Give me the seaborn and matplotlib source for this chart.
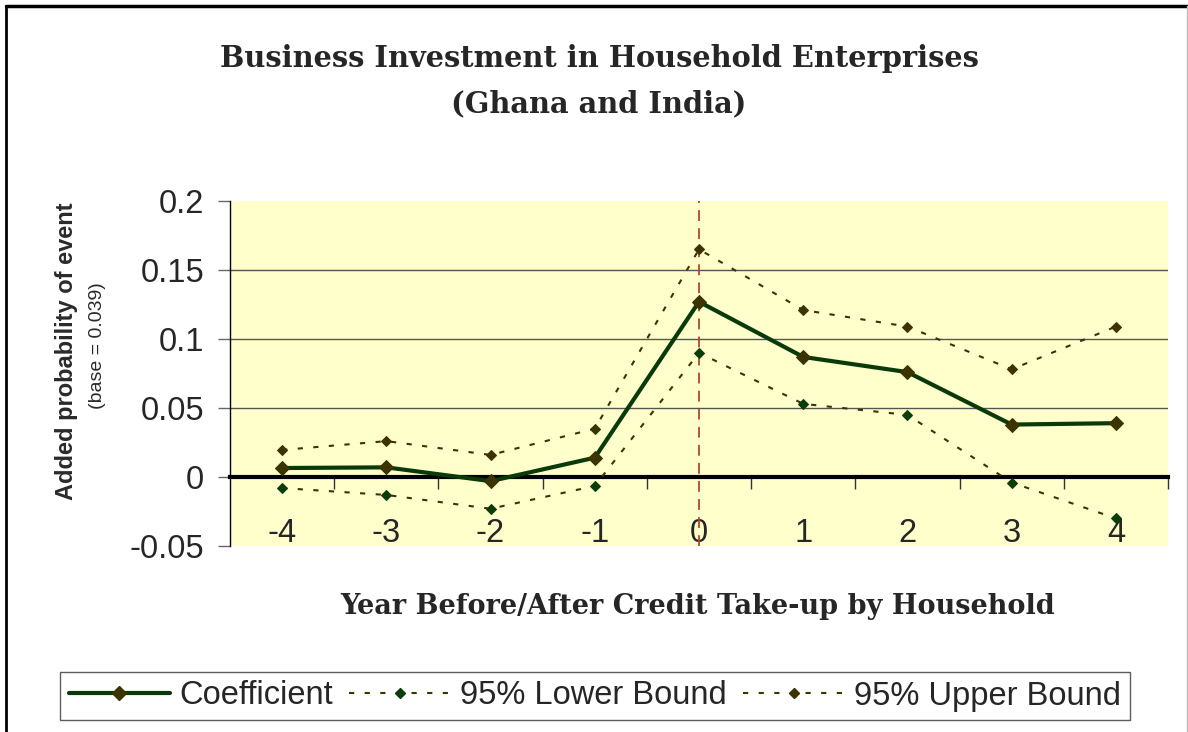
import numpy as np
import pandas as pd
import matplotlib
matplotlib.use("Agg")
import matplotlib.pyplot as plt
from matplotlib.lines import Line2D
import seaborn as sns

# ---------------------------------------------------------------------
# data
# ---------------------------------------------------------------------
years = [-4, -3, -2, -1, 0, 1, 2, 3, 4]
coefficient = [0.0065, 0.007, -0.003, 0.014, 0.127, 0.087, 0.076, 0.038, 0.039]
lower_bound = [-0.008, -0.013, -0.023, -0.0065, 0.090, 0.053, 0.045, -0.004, -0.030]
upper_bound = [0.0196, 0.026, 0.016, 0.035, 0.165, 0.121, 0.109, 0.078, 0.109]

y_ticks = [-0.05, 0, 0.05, 0.1, 0.15, 0.2]
y_tick_labels = ['-0.05', '0', '0.05', '0.1', '0.15', '0.2']
grid_levels = [0.05, 0.1, 0.15]
x_tick_labels = ['-4', '-3', '-2', '-1', '0', '1', '2', '3', '4']
boundaries = [-3.5, -2.5, -1.5, -0.5, 0.5, 1.5, 2.5, 3.5, 4.5]
takeup_year = 0

series_names = ['Coefficient', '95% Lower Bound', '95% Upper Bound']

df = pd.DataFrame({'year': years, 'Coefficient': coefficient,
                   '95% Lower Bound': lower_bound, '95% Upper Bound': upper_bound})

# ---------------------------------------------------------------------
sns.set_style("white")
plt.rcParams['font.family'] = ['Liberation Sans', 'DejaVu Sans']

GREEN = '#0a3a0a'
BROWN = '#3b3300'
YELLOW = '#ffffcc'

fig = plt.figure(figsize=(11.88, 7.32), dpi=100)
ax = fig.add_axes([230 / 1188, 1 - 546 / 732, 938 / 1188, 345 / 732])
ax.set_facecolor(YELLOW)

for lvl in grid_levels:
    ax.axhline(lvl, color='#555555', lw=1, zorder=1)

ax.axvline(takeup_year, color='#b5452a', lw=1.3, ls=(0, (6, 4)), zorder=2)

dot = (0, (2.5, 5))
sns.lineplot(data=df, x='year', y='95% Upper Bound', ax=ax, color=BROWN, lw=1.5,
             linestyle=dot, marker='D', markersize=5, markerfacecolor=BROWN,
             markeredgecolor=BROWN, zorder=3)
sns.lineplot(data=df, x='year', y='95% Lower Bound', ax=ax, color=BROWN, lw=1.5,
             linestyle=dot, marker='D', markersize=5, markerfacecolor='#0b3d0b',
             markeredgecolor='#0b3d0b', zorder=3)
sns.lineplot(data=df, x='year', y='Coefficient', ax=ax, color=GREEN, lw=3,
             marker='D', markersize=7.5, markerfacecolor=BROWN,
             markeredgecolor=BROWN, zorder=4)

ax.set_xlim(-4.5, 4.5)
ax.set_ylim(-0.05, 0.2)

# axes styling: x axis crosses at zero
for s in ['top', 'right']:
    ax.spines[s].set_visible(False)
ax.spines['bottom'].set_position(('data', 0))
ax.spines['bottom'].set_linewidth(3)
ax.spines['bottom'].set_color('black')
ax.spines['left'].set_linewidth(1)
ax.spines['left'].set_color('black')
ax.spines['bottom'].set_zorder(2.5)

ax.set_xticks(years)
ax.set_xticklabels(x_tick_labels)
ax.set_xticks(boundaries, minor=True)
ax.tick_params(axis='x', which='major', length=0, pad=29.5, labelsize=23.5)
ax.tick_params(axis='x', which='minor', direction='out', length=8.6, width=1,
               color='#333333', bottom=True)

ax.set_yticks(y_ticks)
ax.set_yticklabels(y_tick_labels)
ax.tick_params(axis='y', direction='out', length=8.6, width=1, color='#666666',
               labelsize=23.5, pad=10, left=True)

ax.set_xlabel('')
ax.set_ylabel('')

# labels
fig.text(599 / 1188, 1 - 81 / 732,
         'Business Investment in Household Enterprises\n(Ghana and India)',
         ha='center', va='center', family='DejaVu Serif', fontweight='bold',
         fontsize=20.8, linespacing=1.7)
fig.text(698 / 1188, 1 - 607 / 732, 'Year Before/After Credit Take-up by Household',
         ha='center', va='center', family='DejaVu Serif', fontweight='bold', fontsize=19.5)
fig.text(67 / 1188, 1 - 351 / 732, 'Added probability of event', rotation=90,
         ha='center', va='center', fontweight='bold', fontsize=17, color='#2a2a2a')
fig.text(98 / 1188, 1 - 346 / 732, '(base = 0.039)', rotation=90,
         ha='center', va='center', fontsize=14, color='#2a2a2a')

# legend
handles = [
    Line2D([], [], color=GREEN, lw=3, marker='D', markersize=7.5,
           markerfacecolor=BROWN, markeredgecolor=BROWN),
    Line2D([], [], color=BROWN, lw=1.5, ls=dot, marker='D', markersize=5,
           markerfacecolor='#0b3d0b', markeredgecolor='#0b3d0b'),
    Line2D([], [], color=BROWN, lw=1.5, ls=dot, marker='D', markersize=5,
           markerfacecolor=BROWN, markeredgecolor=BROWN),
]
leg = fig.legend(handles, series_names, loc='center', bbox_to_anchor=(595 / 1188, 1 - 696 / 732),
                 ncol=3, fontsize=23.5, frameon=True, fancybox=False, edgecolor='#333333',
                 handlelength=3.1, handletextpad=0.3, columnspacing=0.5,
                 borderpad=0.25, borderaxespad=0)
leg.get_frame().set_linewidth(1)

# outer chart frame
fig.add_artist(Line2D([6 / 1188, 6 / 1188], [0, 1 - 6 / 732], color='black', lw=2,
                      transform=fig.transFigure))
fig.add_artist(Line2D([6 / 1188, 1], [1 - 6 / 732, 1 - 6 / 732], color='black', lw=2.5,
                      transform=fig.transFigure))
fig.add_artist(Line2D([1187 / 1188, 1187 / 1188], [0, 1 - 6 / 732], color='#bbbbbb', lw=1,
                      transform=fig.transFigure))

fig.savefig('out.png', dpi=100)
